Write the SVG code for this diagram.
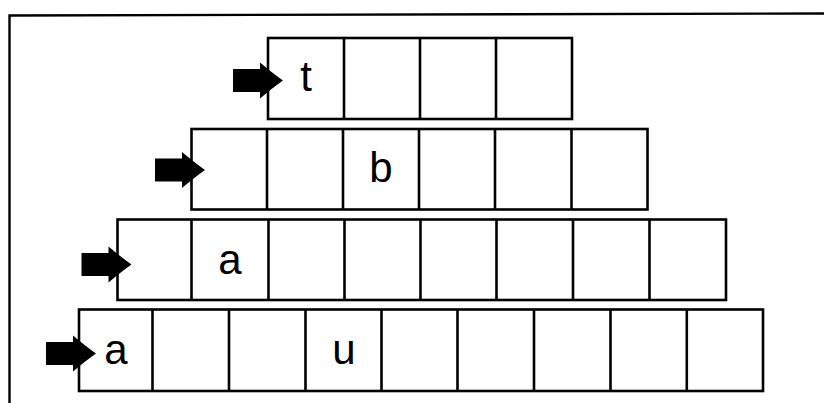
<svg xmlns="http://www.w3.org/2000/svg" xmlns:xlink="http://www.w3.org/1999/xlink" width="824" height="403" viewBox="0 0 824 403">
<style>
.box{fill:#fff;stroke:#000;stroke-width:2.6}
.div{stroke:#000;stroke-width:2.6}
.frame{fill:none;stroke:#000;stroke-width:2.4}
.lbl{font-family:"Liberation Sans",Arial,sans-serif;font-size:42px;fill:#000;text-anchor:middle}
.arr{fill:#000}
</style>
<defs>
<path id="arrow" class="arr" d="M-50,-11.5 H-23 V-18 Q-10,-7 0,0 Q-10,7 -23,18 V11.5 H-50 Z"/>
</defs>
<rect width="824" height="403" fill="#fff"/>
<g id="frame">
<path class="frame" d="M9.5,403 V15.5 L824,13.5"/>
</g>
<g id="row1">
<rect class="box" x="268" y="38" width="304" height="81"/>
<path class="div" d="M344,38V119 M420,38V119 M496,38V119"/>
<text class="lbl" x="306" y="91">t</text>
</g>
<g id="row2">
<rect class="box" x="191.5" y="129" width="456" height="80.5"/>
<path class="div" d="M267,129V209.5 M343,129V209.5 M419,129V209.5 M495,129V209.5 M571.5,129V209.5"/>
<text class="lbl" x="381" y="182">b</text>
</g>
<g id="row3">
<rect class="box" x="117.5" y="219.5" width="608.5" height="80.5"/>
<path class="div" d="M191.5,219.5V300 M268.5,219.5V300 M344.5,219.5V300 M420.5,219.5V300 M496.5,219.5V300 M573,219.5V300 M649.5,219.5V300"/>
<text class="lbl" x="230" y="274">a</text>
</g>
<g id="row4">
<rect class="box" x="79" y="309.5" width="684" height="81.5"/>
<path class="div" d="M152.5,309.5V391 M229,309.5V391 M305.5,309.5V391 M381.5,309.5V391 M457.5,309.5V391 M534,309.5V391 M610.5,309.5V391 M686.8,309.5V391"/>
<text class="lbl" x="116" y="364">a</text>
<text class="lbl" x="344" y="364">u</text>
</g>
<g id="connectors">
<use xlink:href="#arrow" x="283" y="80.5"/>
<use xlink:href="#arrow" x="205" y="170"/>
<use xlink:href="#arrow" x="131.5" y="264.5"/>
<use xlink:href="#arrow" x="96" y="353.5"/>
</g>
</svg>
